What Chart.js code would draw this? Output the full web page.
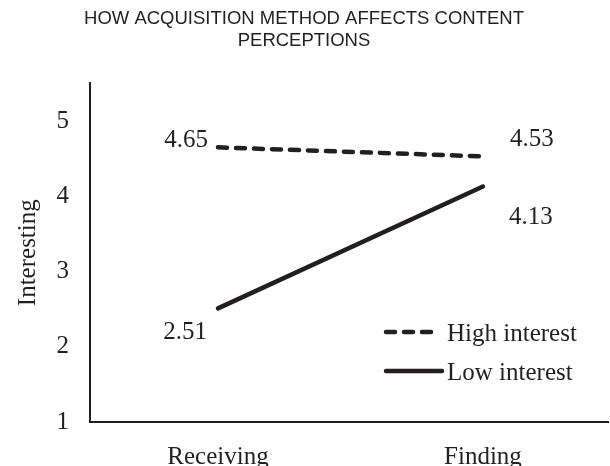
<!DOCTYPE html>
<html><head><meta charset="utf-8">
<script src="https://cdn.jsdelivr.net/npm/chart.js@4.4.0/dist/chart.umd.min.js"></script>
<style>html,body{margin:0;padding:0;background:#fff;overflow:hidden;width:610px;height:466px}
#wrap{position:relative;width:610px;height:478px}</style></head>
<body><div id="wrap"><canvas id="c" width="610" height="478"></canvas></div>
<script>
const categories = ["Receiving", "Finding"];
const seriesNames = ["High interest", "Low interest"];
const highInterest = [4.65, 4.53];
const lowInterest = [2.51, 4.13];
const yTicks = [1, 2, 3, 4, 5];
const titleLines = ["HOW ACQUISITION METHOD AFFECTS CONTENT", "PERCEPTIONS"];
const yTitle = "Interesting";

const INK = '#231f20';
const SERIF = '"Liberation Serif", "Times New Roman", serif';
const SANS = '"Liberation Sans", Arial, sans-serif';
const FS = 25;

// label offsets per dataset / point: [dx, dy, align]
const labelOffsets = [
  [[-10, -7, 'right'], [27, -17, 'left']],
  [[-11, 24, 'right'], [26, 31, 'left']]
];

const dataLabels = {
  id: 'dataLabels',
  afterDatasetsDraw(chart) {
    const ctx = chart.ctx;
    ctx.save();
    ctx.font = FS + 'px ' + SERIF;
    ctx.fillStyle = INK;
    ctx.textBaseline = 'middle';
    chart.data.datasets.forEach((ds, di) => {
      const meta = chart.getDatasetMeta(di);
      meta.data.forEach((pt, i) => {
        const o = labelOffsets[di][i];
        ctx.textAlign = o[2];
        ctx.fillText(ds.data[i].y.toFixed(2), pt.x + o[0], pt.y + o[1]);
      });
    });
    ctx.restore();
  }
};

const innerLegend = {
  id: 'innerLegend',
  afterDatasetsDraw(chart) {
    const ctx = chart.ctx;
    const a = chart.chartArea;
    ctx.save();
    ctx.font = FS + 'px ' + SERIF;
    ctx.fillStyle = INK;
    ctx.textBaseline = 'middle';
    ctx.textAlign = 'left';
    chart.data.datasets.forEach((ds, di) => {
      const y = a.bottom - 90 + di * 39;
      const x0 = a.right - 222;
      const x1 = a.right - 170;
      ctx.beginPath();
      ctx.strokeStyle = ds.borderColor;
      ctx.lineWidth = ds.borderWidth;
      ctx.lineCap = 'round';
      ctx.setLineDash(ds.borderDash || []);
      ctx.moveTo(x0, y);
      ctx.lineTo(di === 0 ? x1 : x1 + 4, y);
      ctx.stroke();
      ctx.setLineDash([]);
      ctx.fillText(ds.label, a.right - 161, y + 2);
    });
    ctx.restore();
  }
};

const toPoints = arr => arr.map((v, i) => ({ x: i, y: v }));

new Chart(document.getElementById('c'), {
  type: 'line',
  data: {
    datasets: [
      { label: seriesNames[0], data: toPoints(highInterest), borderColor: INK, borderWidth: 4.5,
        borderDash: [9, 9], borderCapStyle: 'round', pointRadius: 0, fill: false },
      { label: seriesNames[1], data: toPoints(lowInterest), borderColor: INK, borderWidth: 4.5,
        borderCapStyle: 'round', pointRadius: 0, fill: false }
    ]
  },
  options: {
    responsive: false,
    animation: false,
    layout: { padding: { left: 0, right: 2, top: 0, bottom: 0 } },
    plugins: {
      legend: { display: false },
      tooltip: { enabled: false },
      title: {
        display: true, text: titleLines, color: INK,
        font: { family: SANS, size: 18.5, weight: 'normal', lineHeight: 1.2 },
        padding: { top: 8, bottom: 31 }
      }
    },
    scales: {
      x: {
        type: 'linear',
        min: -0.483, max: 1.472,
        grid: { display: false, drawTicks: false },
        border: { display: true, color: INK, width: 2 },
        afterBuildTicks(s) { s.ticks = categories.map((c, i) => ({ value: i })); },
        ticks: { color: INK, font: { family: SERIF, size: FS }, padding: 20,
                 callback: v => categories[v] },
        afterFit(s) { s.height = 56; }
      },
      y: {
        min: 1, max: 5.5,
        grid: { display: false, drawTicks: false },
        border: { display: true, color: INK, width: 2 },
        afterBuildTicks(s) { s.ticks = yTicks.map(v => ({ value: v })); },
        ticks: { color: INK, font: { family: SERIF, size: FS }, padding: 21 },
        title: { display: true, text: yTitle, color: INK, font: { family: SERIF, size: FS }, padding: { top: 13, bottom: 0 } },
        afterFit(s) { s.width = 90; }
      }
    }
  },
  plugins: [dataLabels, innerLegend]
});
</script>
</body></html>
